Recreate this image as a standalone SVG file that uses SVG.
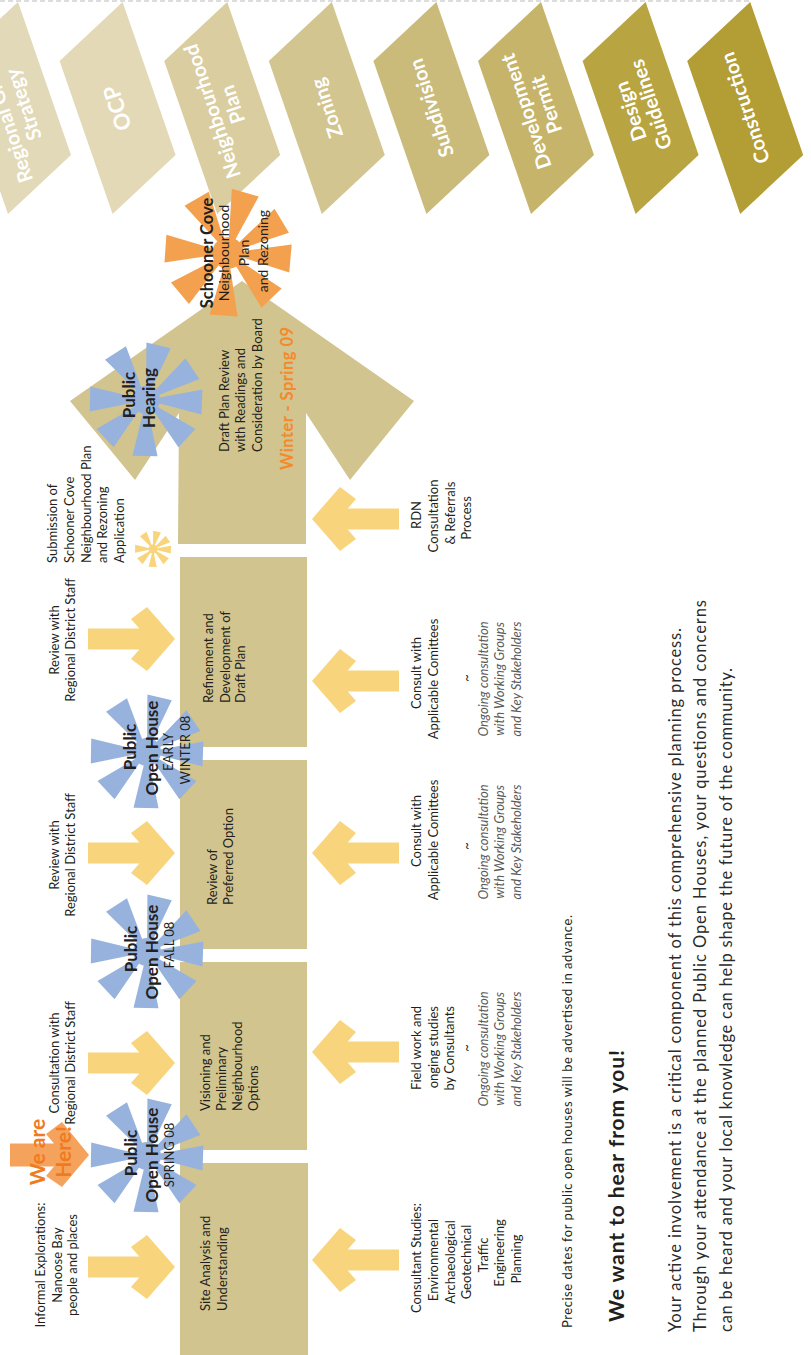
<svg xmlns="http://www.w3.org/2000/svg" xmlns:xlink="http://www.w3.org/1999/xlink" width="811" height="1355" viewBox="0 0 811 1355">
<style>
.t{font-family:Lato,"Open Sans","Liberation Sans",sans-serif;font-size:13px;fill:#231f20}
.c{text-anchor:middle}
.s{text-anchor:start}
.e{text-anchor:end}
.it{font-style:italic;fill:#5a5a5a}
.b{font-weight:700}
.sb{font-weight:700;font-size:17px}
.box{fill:#d1c48e}
.ya{fill:#f8d57d}
.blue{fill:#97b3dd}
.ct{font-family:Lato,"Open Sans","Liberation Sans",sans-serif;font-size:20px;font-weight:700;fill:#fff;text-anchor:middle}
</style>
<defs>
<g id="star">
<path d="M0 0L0.42-57.38L24.78-51.76Z M0 0L39.43-41.68L53.41-20.96Z M0 0L56.41-10.54L55.53 14.44Z M0 0L49.49 29.05L32.43 47.33Z M0 0L11.52 56.21L-13.48 55.77Z M0 0L-32.43 47.33L-49.49 29.05Z M0 0L-56.21 11.52L-55.77-13.48Z M0 0L-40.98-40.16L-20.02-53.78Z"/>
<circle r="14"/>
</g>
<path id="arr" d="M0 0L-28-32L-44-20L-35.7-10.5L-87-10.5L-87 10.5L-35.7 10.5L-44 20L-28 32Z"/>
</defs>

<line x1="0" y1="1" x2="752" y2="1" stroke="#bbbbbb" stroke-width="1.2" stroke-dasharray="5 3"/>

<g id="banner">
<g id="chev-regional"><polygon points="18,2 -45,61 8,214 71,155" fill="#e2d9b8"/>
<text class="ct" transform="translate(13,108) rotate(-108.5)"><tspan x="0" y="-3.5">Regional Growth</tspan><tspan x="0" y="18">Strategy</tspan></text></g>
<g id="chev-ocp"><polygon points="122.6,2 59.6,61 112.6,214 175.6,155" fill="#e3d9b7"/>
<text class="ct" transform="translate(117.6,108) rotate(-108.5)" style="font-size:22px"><tspan x="0" y="7.5">OCP</tspan></text></g>
<g id="chev-neighbourhood"><polygon points="227.2,2 164.2,61 217.2,214 280.2,155" fill="#dacd9f"/>
<text class="ct" transform="translate(222.2,108) rotate(-108.5)"><tspan x="0" y="-3.5">Neighbourhood</tspan><tspan x="0" y="18">Plan</tspan></text></g>
<g id="chev-zoning"><polygon points="331.8,2 268.8,61 321.8,214 384.8,155" fill="#d3c590"/>
<text class="ct" transform="translate(326.8,108) rotate(-108.5)"><tspan x="0" y="7">Zoning</tspan></text></g>
<g id="chev-subdivision"><polygon points="436.4,2 373.4,61 426.4,214 489.4,155" fill="#cbbb7b"/>
<text class="ct" transform="translate(431.4,108) rotate(-108.5)"><tspan x="0" y="7">Subdivision</tspan></text></g>
<g id="chev-devpermit"><polygon points="541,2 478,61 531,214 594,155" fill="#c5b46a"/>
<text class="ct" transform="translate(536,108) rotate(-108.5)"><tspan x="0" y="-3.5">Development</tspan><tspan x="0" y="18">Permit</tspan></text></g>
<g id="chev-design"><polygon points="645.6,2 582.6,61 635.6,214 698.6,155" fill="#b8a440"/>
<text class="ct" transform="translate(640.6,108) rotate(-108.5)"><tspan x="0" y="-3.5">Design</tspan><tspan x="0" y="18">Guidelines</tspan></text></g>
<g id="chev-construction"><polygon points="750.2,2 687.2,61 740.2,214 803.2,155" fill="#b39d35"/>
<text class="ct" transform="translate(745.2,108) rotate(-108.5)"><tspan x="0" y="7">Construction</tspan></text></g>
</g>

<g id="connectors">
<use xlink:href="#arr" href="#arr" class="ya" transform="translate(175,1267)"/>
<use xlink:href="#arr" href="#arr" class="ya" transform="translate(175,1063)"/>
<use xlink:href="#arr" href="#arr" class="ya" transform="translate(175,853)"/>
<use xlink:href="#arr" href="#arr" class="ya" transform="translate(175,639)"/>
<use xlink:href="#arr" href="#arr" class="ya" transform="translate(312,1260) scale(-1,1)"/>
<use xlink:href="#arr" href="#arr" class="ya" transform="translate(312,1052) scale(-1,1)"/>
<use xlink:href="#arr" href="#arr" class="ya" transform="translate(312,853) scale(-1,1)"/>
<use xlink:href="#arr" href="#arr" class="ya" transform="translate(312,681) scale(-1,1)"/>
<use xlink:href="#arr" href="#arr" class="ya" transform="translate(312,519) scale(-1,1)"/>
<path id="we-are-here-arrow" d="M89 1155L62 1122L46 1134L54 1143.5L10 1143.5L10 1166.5L54 1166.5L46 1176L62 1187Z" fill="#f5a35c"/>
</g>

<g id="box-site"><rect class="box" x="180" y="1163" width="128" height="195"/></g>
<g id="box-visioning"><rect class="box" x="180" y="962" width="127" height="188"/></g>
<g id="box-review"><rect class="box" x="180" y="760" width="127" height="189"/></g>
<g id="box-refinement"><rect class="box" x="180" y="557" width="127" height="190"/></g>
<g id="arrow-draft"><polygon class="box" points="242,281 414,401 350,480 306,413 306,544 178,544 179,413 135,480 70,401"/></g>

<g id="star-spring"><use xlink:href="#star" href="#star" class="blue" transform="translate(147,1156)"/></g>
<g id="star-fall"><use xlink:href="#star" href="#star" class="blue" transform="translate(147,952)"/></g>
<g id="star-winter"><use xlink:href="#star" href="#star" class="blue" transform="translate(147,752)"/></g>
<g id="star-hearing"><use xlink:href="#star" href="#star" class="blue" transform="translate(146,400)"/></g>
<g id="star-schooner"><use xlink:href="#star" href="#star" fill="#f4a14f" transform="translate(228,253) rotate(3) scale(1.12)"/></g>
<g id="asterisk-submission"><use xlink:href="#star" href="#star" class="ya" transform="translate(153,549) scale(0.32)"/></g>

<g id="texts" transform="rotate(-90)">
<text class="t c"><tspan x="-1265" y="45">Informal Explorations:</tspan><tspan x="-1265" y="61.5">Nanoose Bay</tspan><tspan x="-1265" y="77">people and places</tspan></text>
<text class="t c"><tspan x="-1063" y="58.5">Consultation with</tspan><tspan x="-1063" y="75">Regional District Staff</tspan></text>
<text class="t c"><tspan x="-855" y="58.5">Review with</tspan><tspan x="-855" y="75">Regional District Staff</tspan></text>
<text class="t c"><tspan x="-640" y="58.5">Review with</tspan><tspan x="-640" y="75">Regional District Staff</tspan></text>
<text class="t s"><tspan x="-563" y="57">Submission of</tspan><tspan x="-563" y="73.8">Schooner Cove</tspan><tspan x="-563" y="90.6">Neighbourhood Plan</tspan><tspan x="-563" y="107.4">and Rezoning</tspan><tspan x="-563" y="124.2">Application</tspan></text>

<text class="t c b" style="font-size:21px;fill:#f07b1f"><tspan x="-1152" y="45">We are</tspan><tspan x="-1152" y="71">Here!</tspan></text>

<text class="t c"><tspan class="sb" x="-1153" y="137">Public</tspan><tspan class="sb" x="-1155" y="158">Open House</tspan><tspan x="-1155" y="174">SPRING 08</tspan></text>
<text class="t c"><tspan class="sb" x="-949" y="137">Public</tspan><tspan class="sb" x="-952" y="158">Open House</tspan><tspan x="-945" y="174">FALL 08</tspan></text>
<text class="t c"><tspan class="sb" x="-747" y="136">Public</tspan><tspan class="sb" x="-748" y="158">Open House</tspan><tspan x="-752" y="173">EARLY</tspan><tspan x="-750" y="190">WINTER 08</tspan></text>
<text class="t c"><tspan class="sb" x="-395" y="135">Public</tspan><tspan class="sb" x="-398" y="155">Hearing</tspan></text>
<text class="t c" style="font-size:14px"><tspan class="b" style="font-size:16.5px" x="-253" y="213">Schooner Cove</tspan><tspan x="-253" y="229">Neighbourhood</tspan><tspan x="-253" y="249">Plan</tspan><tspan x="-251" y="268">and Rezoning</tspan></text>

<text class="t s"><tspan x="-1311" y="210">Site Analysis and</tspan><tspan x="-1311" y="226.5">Understanding</tspan></text>
<text class="t s"><tspan x="-1111" y="210">Visioning and</tspan><tspan x="-1111" y="226">Preliminary</tspan><tspan x="-1111" y="242">Neighbourhood</tspan><tspan x="-1111" y="258">Options</tspan></text>
<text class="t s"><tspan x="-905" y="217">Review of</tspan><tspan x="-905" y="232.5">Preferred Option</tspan></text>
<text class="t s"><tspan x="-703" y="213">Refinement and</tspan><tspan x="-703" y="229.5">Development of</tspan><tspan x="-703" y="245">Draft Plan</tspan></text>
<text class="t s"><tspan x="-452" y="228.5">Draft Plan Review</tspan><tspan x="-452" y="245">with Readings and</tspan><tspan x="-452" y="262">Consideration by Board</tspan></text>
<text class="t s b" x="-470" y="293" style="font-size:16.5px;fill:#f58a2b" textLength="143">Winter - Spring 09</text>

<text class="t c"><tspan x="-1258" y="421">Consultant Studies:</tspan><tspan x="-1260" y="438">Environmental</tspan><tspan x="-1262" y="455">Archaeological</tspan><tspan x="-1262" y="471">Geotechnical</tspan><tspan x="-1255" y="488">Traffic</tspan><tspan x="-1253" y="504">Engineering</tspan><tspan x="-1259" y="521">Planning</tspan></text>
<text class="t e"><tspan x="-1006" y="421">Field work and</tspan><tspan x="-1006" y="437.5">onging studies</tspan><tspan x="-1006" y="454">by Consultants</tspan></text>
<text class="t c" x="-1048" y="471">~</text>
<text class="t c it"><tspan x="-1049" y="487.5">Ongoing consultation</tspan><tspan x="-1049" y="504">with Working Groups</tspan><tspan x="-1049" y="521">and Key Stakeholders</tspan></text>

<text class="t c"><tspan x="-831" y="421">Consult with</tspan><tspan x="-840" y="437.5">Applicable Comittees</tspan></text>
<text class="t c" x="-846" y="471">~</text>
<text class="t c it"><tspan x="-842" y="487.5">Ongoing consultation</tspan><tspan x="-842" y="504">with Working Groups</tspan><tspan x="-842" y="521">and Key Stakeholders</tspan></text>

<text class="t c"><tspan x="-673" y="421">Consult with</tspan><tspan x="-679" y="437.5">Applicable Comittees</tspan></text>
<text class="t c" x="-678" y="471">~</text>
<text class="t c it"><tspan x="-679" y="487.5">Ongoing consultation</tspan><tspan x="-679" y="504">with Working Groups</tspan><tspan x="-679" y="521">and Key Stakeholders</tspan></text>

<text class="t c"><tspan x="-515" y="421">RDN</tspan><tspan x="-516" y="438">Consultation</tspan><tspan x="-513" y="455">&amp; Referrals</tspan><tspan x="-518" y="471">Process</tspan></text>

<text class="t s" x="-1328" y="572" textLength="413">Precise dates for public open houses will be advertised in advance.</text>
<text class="t s b" x="-1322" y="624" style="font-size:21px" textLength="272">We want to hear from you!</text>
<text class="t s" style="font-size:16.5px;fill:#2b2b2b"><tspan x="-1332" y="681" textLength="704">Your active involvement is a critical component of this comprehensive planning process.</tspan><tspan x="-1332" y="706" textLength="732">Through your attendance at the planned Public Open Houses, your questions and concerns</tspan><tspan x="-1332" y="732" textLength="664">can be heard and your local knowledge can help shape the future of the community.</tspan></text>
</g>
</svg>
